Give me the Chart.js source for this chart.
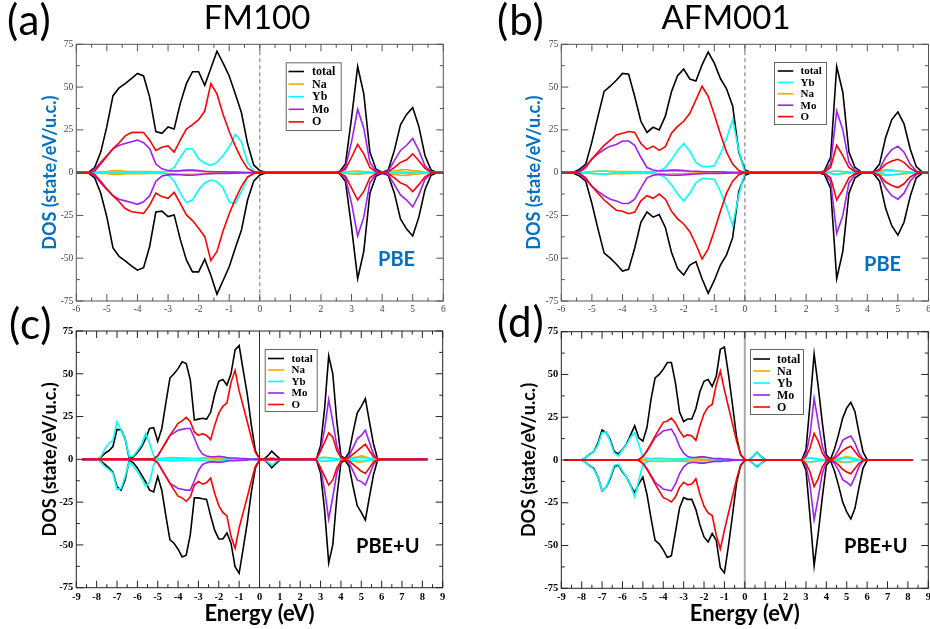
<!DOCTYPE html>
<html><head><meta charset="utf-8">
<script src="https://cdn.jsdelivr.net/npm/chart.js@4.4.0/dist/chart.umd.min.js"></script>
<style>
html,body{margin:0;padding:0;background:#fff;}
#wrap{position:relative;width:930px;height:629px;overflow:hidden;background:#fff;}
canvas{position:absolute;left:0;top:0;}
.t{position:absolute;font-family:Lato,"Open Sans",sans-serif;line-height:1;white-space:nowrap;color:#000;}
.p{font-size:42px;letter-spacing:1px;}
.b{font-weight:bold;}
</style></head>
<body><div id="wrap">
<canvas id="ca" width="930" height="629"></canvas>
<canvas id="cb" width="930" height="629"></canvas>
<canvas id="cc" width="930" height="629"></canvas>
<canvas id="cd" width="930" height="629"></canvas>
<div class="t p" style="left:7px;top:-2px">(a)</div>
<div class="t" style="left:157px;top:0px;width:200px;text-align:center;font-size:33px">FM100</div>
<div class="t p" style="left:497px;top:-2px">(b)</div>
<div class="t" style="left:626px;top:0px;width:200px;text-align:center;font-size:33px">AFM001</div>
<div class="t p" style="left:9px;top:302px">(c)</div>
<div class="t p" style="left:497px;top:300px">(d)</div>
<div class="t b" style="left:378px;top:248px;font-size:20px;color:#0070c0">PBE</div>
<div class="t b" style="left:864px;top:253px;font-size:20px;color:#0070c0">PBE</div>
<div class="t b" style="left:356px;top:535px;font-size:20px">PBE+U</div>
<div class="t b" style="left:844px;top:535px;font-size:20px">PBE+U</div>
</div>
<script>
// ---------------- DATA ----------------
const energyTop = [-6.0,-5.8,-5.6,-5.4,-5.2,-5.0,-4.8,-4.6,-4.4,-4.2,-4.0,-3.8,-3.6,-3.4,-3.2,-3.0,-2.8,-2.6,-2.4,-2.2,-2.0,-1.8,-1.6,-1.4,-1.2,-1.0,-0.8,-0.6,-0.4,-0.2,0.0,0.2,0.4,
  2.4,2.6,2.8,3.0,3.2,3.4,3.6,3.8,4.0,4.2,4.4,4.6,4.8,5.0,5.2,5.4,5.6,5.8,6.0];
const energyC = [-8.7,-8.0,-7.8,-7.6,-7.4,-7.2,-7.0,-6.8,-6.6,-6.4,-6.2,-6.0,-5.8,-5.6,-5.4,-5.2,-5.0,-4.8,-4.6,-4.4,-4.2,-4.0,-3.8,-3.6,-3.4,-3.2,-3.0,-2.8,-2.6,-2.4,-2.2,-2.0,-1.8,-1.6,-1.4,-1.2,-1.0,-0.8,-0.6,-0.4,-0.2,0.0,0.2,0.4,0.6,0.8,1.0,1.2,
  2.6,2.8,3.0,3.2,3.4,3.6,3.8,4.0,4.2,4.4,4.6,4.8,5.0,5.2,5.4,5.6,5.8,6.0,6.2,8.25];
const energyD = [-8.85,-8.0,-7.8,-7.6,-7.4,-7.2,-7.0,-6.8,-6.6,-6.4,-6.2,-6.0,-5.8,-5.6,-5.4,-5.2,-5.0,-4.8,-4.6,-4.4,-4.2,-4.0,-3.8,-3.6,-3.4,-3.2,-3.0,-2.8,-2.6,-2.4,-2.2,-2.0,-1.8,-1.6,-1.4,-1.2,-1.0,-0.8,-0.6,-0.4,-0.2,0.0,0.2,0.4,0.6,0.8,1.0,1.2,
  2.6,2.8,3.0,3.2,3.4,3.6,3.8,4.0,4.2,4.4,4.6,4.8,5.0,5.2,5.4,5.6,5.8,6.0,6.2,8.25];

const xTicksTop = [-6,-5,-4,-3,-2,-1,0,1,2,3,4,5,6];
const xTicksBottom = [-9,-8,-7,-6,-5,-4,-3,-2,-1,0,1,2,3,4,5,6,7,8,9];
const yTicks = [-75,-50,-25,0,25,50,75];

// ---- (a) FM100, PBE ----
const aTotalUp = [0,0,0.3,3,12,27,45,49.5,52,55,58,56.5,44,24,23,26.7,25.5,40.5,52,59,59,51,61,71,64,56.5,46,35,17,4.5,1.2,0.2,0,
  0,0.5,5,32,62,46,12,2,0.3,1.5,13,28,34,38,27,10,1.5,0,0];
const aTotalDn = [0,0,-0.3,-3,-12,-26,-44,-49,-51.5,-54.5,-57,-55.5,-43,-23,-22.5,-25.7,-24.7,-39,-51,-58,-58,-50.6,-60,-71,-63,-55,-44,-33.5,-16,-5,-1.4,-0.2,0,
  0,-0.5,-5,-32,-62,-46,-12,-2,-0.3,-1.5,-12,-27,-33,-37,-26,-10,-1.5,0,0];
const aNaUp = [0,0,0,0.2,0.4,0.6,1.2,1.2,0.8,0.6,0.7,0.7,0.6,0.5,0.5,0.6,0.9,1,1,1,0.8,0.6,0.4,0.3,0.3,0.2,0.2,0.1,0.1,0,0,0,0,
  0,0.1,0.4,0.8,1,0.6,0.3,0.1,0,0.3,1,1.5,1.8,1.2,0.9,0.4,0.1,0,0];
const aNaDn = [0,0,0,-0.2,-0.4,-0.5,-1,-1,-0.7,-0.5,-0.6,-0.6,-0.5,-0.5,-0.5,-0.6,-0.8,-0.9,-0.9,-0.9,-0.7,-0.5,-0.4,-0.3,-0.3,-0.2,-0.2,-0.1,-0.1,0,0,0,0,
  0,-0.1,-0.4,-0.8,-1,-0.6,-0.3,-0.1,0,-0.3,-1,-1.5,-1.6,-1,-0.8,-0.4,-0.1,0,0];
const aYbUp = [0,0,0.1,0.2,0.3,0.3,0.3,0.3,0.3,0.3,0.3,0.3,0.3,0.3,0.3,1,3,9,14,13.8,8,5.5,4.3,6,10,15,22.5,18,6,1,0,0,0,
  0,0.1,0.3,0.5,0.5,0.3,0.2,0.1,0,0.1,0.2,0.3,0.3,0.3,0.2,0.1,0,0,0];
const aYbDn = [0,0,-0.1,-0.2,-0.3,-0.3,-0.3,-0.3,-0.3,-0.3,-0.3,-0.3,-0.3,-0.3,-0.3,-1.4,-5,-12,-17.5,-16,-10,-6,-4.3,-5.3,-9,-17,-18,-11,-3,-0.5,0,0,0,
  0,-0.1,-0.3,-0.5,-0.5,-0.3,-0.2,-0.1,0,-0.1,-0.2,-0.3,-0.3,-0.3,-0.2,-0.1,0,0,0];
const aMoUp = [0,0,0,2,6,10,14,16,17,18,19,17.5,14,5,2.2,1.3,1,1.2,1.5,1.5,1.2,0.8,0.6,0.5,0.5,0.4,0.3,0.2,0.1,0,0,0,0,
  0,0.5,3,18,37,26,6,1,0.3,1,7,13,16,20,13,4,0.5,0,0];
const aMoDn = [0,0,0,-2,-6,-10,-13.5,-15.5,-16.5,-17.5,-18.5,-17,-13.5,-5,-2,-1.3,-1,-1.2,-1.5,-1.5,-1.2,-0.8,-0.6,-0.5,-0.5,-0.4,-0.3,-0.2,-0.1,0,0,0,0,
  0,-0.5,-3,-18,-37,-26,-6,-1,-0.3,-1,-7,-13,-16,-20,-13,-4,-0.5,0,0];
const aOUp = [0,0,0,1,5,9.6,14,17.5,21.5,23.4,23.6,23.5,19,13,14.8,15.6,12,19,25.5,28,31,36,52,46,34,24,15.5,8,2.5,0.5,0,0,0,
  0,0.3,2,9,16.5,11,3,0.5,0,0.5,3,6,7.5,11,7,2.5,0.3,0,0];
const aODn = [0,0,0,-1,-5,-9.5,-13.5,-17,-21,-22.8,-23.3,-23.8,-19,-12,-14,-15,-11.5,-18,-24.7,-28,-32.5,-37.4,-51.4,-46,-34,-24,-15.5,-8,-2.5,-0.5,0,0,0,
  0,-0.3,-2,-9,-16,-11,-3,-0.5,0,-0.5,-3,-6,-7.5,-11,-7,-2.5,-0.3,0,0];

// ---- (b) AFM001, PBE ----
const bTotalUp = [0,0,0.3,2,5,18,33,47.5,50.5,54,58,57.5,44.5,30,23.5,26.5,25,33,47.3,56.7,60.5,54.7,53.5,63,70.5,64,55,49,39,12,1.5,0.2,0,
  0,1,9,62,47,12,3,0.5,0.2,0.5,5,20.6,31,35.5,28.5,14,3.5,0.3,0];
const bTotalDn = [0,0,-0.3,-2,-5,-18,-33,-47,-50,-53.5,-57.5,-56.5,-44,-29,-23,-26,-24.5,-32,-46.5,-56,-59.8,-54,-52,-62,-70.5,-63,-54,-48,-38,-11,-1.5,-0.2,0,
  0,-1,-9,-62,-46,-12,-3,-0.5,-0.2,-0.5,-5,-21,-31,-36.5,-29,-14,-3,-0.3,0];
const bNaUp = [0,0,0,0.1,0.3,0.6,0.9,0.9,0.8,0.7,0.7,0.7,0.6,0.5,0.5,0.6,0.8,0.9,0.9,0.8,0.7,0.5,0.4,0.3,0.3,0.2,0.2,0.1,0.1,0,0,0,0,
  0,0.1,0.5,1,0.6,0.3,0.1,0,0,0.3,1,1.8,1.5,1,0.7,0.3,0.1,0,0];
const bNaDn = [0,0,0,-0.1,-0.3,-0.5,-0.8,-0.8,-0.7,-0.6,-0.6,-0.6,-0.5,-0.5,-0.5,-0.5,-0.7,-0.8,-0.8,-0.7,-0.6,-0.5,-0.4,-0.3,-0.3,-0.2,-0.2,-0.1,-0.1,0,0,0,0,
  0,-0.1,-0.5,-1,-0.6,-0.3,-0.1,0,0,-0.3,-1,-1.6,-1.4,-1,-0.7,-0.3,-0.1,0,0];
const bYbUp = [0,0,0,0,0.2,0.5,0.8,1,0.5,0.3,0.3,0.3,0.3,0.3,0.3,0.3,1,3,7.5,13,17,12.5,6,3.5,3.5,4,11,20,31,13,0,0,0,
  0,0.1,0.5,1,0.5,0.2,0.1,0,0,0.1,0.3,1,1.2,0.8,0.4,0.2,0,0,0];
const bYbDn = [0,0,0,0,-0.2,-0.5,-0.8,-1,-0.5,-0.3,-0.3,-0.3,-0.3,-0.3,-0.3,-0.3,-1,-3,-7,-12.5,-16.5,-12,-6,-3.5,-3.5,-4,-11,-20,-31,-13,0,0,0,
  0,-0.1,-0.5,-1,-0.5,-0.2,-0.1,0,0,-0.1,-0.3,-1,-1.2,-0.8,-0.4,-0.2,0,0,0];
const bMoUp = [0,0,0,1,4,8,11,13.5,15.5,16.5,18.5,18.5,16,9,3,1.5,1,1.3,1.5,1.5,1.3,1,0.8,0.6,0.5,0.5,0.5,0.3,0.2,0,0,0,0,
  0,0.5,5,36,25,6,1.2,0.2,0,0.5,2,9,13.5,15.5,12,5,1,0,0];
const bMoDn = [0,0,0,-1,-4,-8,-11,-13.5,-15.5,-16.5,-18,-18,-15.5,-9,-3,-1.5,-1,-1.3,-1.5,-1.5,-1.3,-1,-0.8,-0.6,-0.5,-0.5,-0.5,-0.3,-0.2,0,0,0,0,
  0,-0.5,-5,-35.5,-25,-6,-1.2,-0.2,0,-0.5,-2,-9,-13.5,-15.5,-12,-5,-1,0,0];
const bOUp = [0,0,0,0.5,3,8,12,16,19,22,23,24,23.5,17,13.6,15.5,13,15.2,23,27,30,34.7,42.5,50.5,44.6,34,22.6,12,5,1.2,0,0,0,
  0,0.4,3,16,10,3,0.6,0.1,0,0.3,1.5,5,6.8,7.8,6,2.5,0.5,0,0];
const bODn = [0,0,0,-0.5,-3,-8,-12,-16,-19,-22,-22.5,-24,-23,-16.5,-13.5,-15,-12.5,-15.5,-22.5,-27,-30,-34.5,-42,-50.5,-44.5,-34,-22.6,-12,-5,-1.2,0,0,0,
  0,-0.4,-3,-16,-10,-3,-0.6,-0.1,0,-0.3,-1.5,-5.5,-7.5,-8.7,-6.5,-2.5,-0.5,0,0];

// ---- (c) FM100, PBE+U ----
const cTotalUp = [0,0,1,3.5,5,7.5,17.5,17.2,12,0.5,1.5,4,7,12,18,18.5,10.5,18,33,47.5,50,53,57,56,46.5,23,23.5,24,23.5,27.5,38,45.6,46.7,43.4,50,64,66.5,52,38,20,5,0.3,0,2,4.8,2.5,0.5,0,
  0,0.5,8,30,60.5,50,22,2,0.5,4,16,27,31,35.5,22,9,0.5,0,0,0];
const cTotalDn = [0,0,-1,-3,-5,-7.5,-16,-18,-12,-0.5,-2,-5,-9,-13,-18,-19,-10,-18,-33,-47,-49,-52.5,-57,-56,-44,-22.5,-22.5,-23,-23.4,-33,-41.5,-46.5,-46.5,-43,-49,-62.7,-66.6,-52,-37,-19,-5,-0.3,0,-2,-5,-2.5,-0.5,0,
  0,-0.5,-8,-30,-60.5,-50,-22,-2,-0.5,-4,-16,-27,-31,-35.5,-22,-9,-0.5,0,0,0];
const cNaUp = [0,0,0,0,0,0,0,0,0,0,0,0,0,0,0,0,0.3,0.6,0.8,1,1,0.9,0.8,0.7,0.6,0.5,0.5,0.6,0.6,0.6,0.5,0.4,0.3,0.3,0.2,0.2,0.1,0.1,0,0,0,0,0,0,0,0,0,0,
  0,0.2,0.8,1.2,1,0.6,0.3,0.1,0,0.3,1,1.5,2,1.5,0.8,0.3,0,0,0,0];
const cNaDn = [0,0,0,0,0,0,0,0,0,0,0,0,0,0,0,0,-0.3,-0.5,-0.7,-0.9,-0.9,-0.8,-0.7,-0.6,-0.5,-0.5,-0.5,-0.5,-0.5,-0.5,-0.4,-0.4,-0.3,-0.3,-0.2,-0.2,-0.1,-0.1,0,0,0,0,0,0,0,0,0,0,
  0,-0.2,-0.8,-1.2,-1,-0.6,-0.3,-0.1,0,-0.3,-1,-1.5,-1.5,-1.2,-0.6,-0.3,0,0,0,0];
const cYbUp = [0,0,1.5,6,9.4,11,22,17,12,1.5,2,5,8.5,15,9.4,2,0.5,0.5,0.5,0.5,0.5,0.5,0.5,0.5,0.5,0.5,0.6,0.8,1,1.2,1.2,1.2,1,0.6,0.4,0.3,0.2,0.1,0.1,0,0,0,0,0.5,1,0.5,0,0,
  0,0.3,1,1,0.8,0.6,0.3,0.1,0,0.2,0.5,1,1,0.8,0.5,0.2,0,0,0,0];
const cYbDn = [0,0,-1.5,-4.3,-6,-8,-17.5,-17,-10,-1.5,-4,-7,-11,-15.5,-13.5,-3,-0.5,-0.5,-0.5,-0.5,-0.5,-0.5,-0.5,-0.5,-0.5,-0.5,-0.6,-0.8,-1,-1.2,-1.2,-1.2,-1,-0.6,-0.4,-0.3,-0.2,-0.1,-0.1,0,0,0,0,-1.5,-3.5,-1.5,0,0,
  0,-0.3,-1,-1,-0.8,-0.6,-0.3,-0.1,0,-0.2,-0.5,-1,-1,-0.8,-0.5,-0.2,0,0,0,0];
const cMoUp = [0,0,0,0,0,0,0,0,0,0,0,0,0,0,0,0.3,2,6,10,14,15.5,17,17.5,18,18,12.5,6.5,3,2,1.5,1.5,1.8,1.5,1,0.8,0.8,0.6,0.5,0.3,0.1,0,0,0,0,0,0,0,0,
  0,0.5,5,18,35,22,8,1,0.3,2,7,12,14,17,10,3,0.5,0,0,0];
const cMoDn = [0,0,0,0,0,0,0,0,0,0,0,0,0,0,0,-0.3,-2,-6,-10,-14,-15.5,-17,-17.5,-18,-18,-12.5,-6.5,-3,-2,-1.5,-1.5,-1.8,-1.5,-1,-0.8,-0.8,-0.6,-0.5,-0.3,-0.1,0,0,0,0,0,0,0,0,
  0,-0.5,-5,-18,-35,-22,-8,-1,-0.3,-2,-7,-12,-13,-15,-9,-3,-0.5,0,0,0];
const cOUp = [0,0,0,0,0,0,0,0,0,0,0,0,0,0,0,0.3,2,6,10,14,17.5,21,22.5,24.5,22,16,14,15,14,11.5,20,27,31,33,45,52,40,31,22,12.5,4,0.5,0,0,0,0,0,0,
  0,0.5,5,10,15.5,13,5,1,0.3,1,3,5,7,8.8,5,1.5,0.3,0,0,0];
const cODn = [0,0,0,0,0,0,0,0,0,0,0,0,0,0,0,-0.3,-2,-6,-10,-14,-18,-21.5,-22.5,-24.5,-22,-15,-13,-14.5,-13.5,-11,-20,-27,-31,-33,-45,-52,-40,-31,-22,-12.5,-4,-0.5,0,0,0,0,0,0,
  0,-0.5,-5,-10,-15,-12,-5,-1,-0.3,-1,-3,-5,-7,-8.2,-5,-1.5,-0.3,0,0,0];

// ---- (d) AFM001, PBE+U ----
const dTotalUp = [0,0,1.5,3.5,5,10,17.5,16,12,5,3.5,6.2,9.4,14.7,20,13,11,19,35.5,48,50,53,57,57,45,28,22.5,24,24,30,40,46,47,43,49,64.7,66,50,32,13,3,0.3,0,2,4.5,2,0.3,0,
  0,0.2,6,33,62,43,22,3,0.3,6.4,15,24.5,30.4,33.7,28.4,16,4.7,0.2,0,0];
const dTotalDn = [0,0,-1.5,-3.5,-5,-10,-18,-16,-11,-4,-3,-7,-10,-15,-19,-14,-10,-20,-34,-47,-49,-52.5,-57,-56,-42,-28,-22,-23,-23,-29,-38,-45,-48,-43,-47,-63,-66,-50,-32,-13,-3,-0.3,0,-2,-4,-2,-0.3,0,
  0,-0.2,-6,-33,-61.8,-43,-22,-3,-0.3,-6.4,-15,-24.5,-30.4,-34.5,-28.4,-16,-4.7,-0.2,0,0];
const dNaUp = [0,0,0,0,0,0,0,0,0,0,0,0,0,0,0,0,0.3,0.6,0.9,1,1,0.9,0.8,0.7,0.6,0.5,0.5,0.6,0.7,0.6,0.5,0.4,0.3,0.3,0.2,0.2,0.1,0.1,0,0,0,0,0,0,0,0,0,0,
  0,0.2,0.7,1.2,1,0.6,0.3,0.1,0,0.3,1,1.5,2,1.5,0.8,0.3,0,0,0,0];
const dNaDn = [0,0,0,0,0,0,0,0,0,0,0,0,0,0,0,0,-0.3,-0.5,-0.7,-0.9,-0.9,-0.8,-0.7,-0.6,-0.5,-0.5,-0.5,-0.5,-0.6,-0.5,-0.4,-0.4,-0.3,-0.3,-0.2,-0.2,-0.1,-0.1,0,0,0,0,0,0,0,0,0,0,
  0,-0.2,-0.7,-1.2,-1,-0.6,-0.3,-0.1,0,-0.3,-1,-1.5,-1.5,-1.2,-0.6,-0.3,0,0,0,0];
const dYbUp = [0,0,1.5,3.5,5,9,16,16.5,11,4,2.5,6,9,13.5,16,9,1.5,1,0.6,0.6,0.6,0.6,0.6,0.6,0.6,0.6,0.8,1,1.2,1.5,1.5,1.5,1.2,0.8,0.5,0.3,0.2,0.1,0,0,0,0,0,2,4.3,2,0,0,
  0,0.3,1,1,0.8,0.5,0.3,0.1,0,0.2,0.5,1,1.2,0.8,0.5,0.2,0,0,0,0];
const dYbDn = [0,0,-1.5,-3.5,-5.5,-10,-18,-16,-10,-3,-2.5,-6.5,-10,-15,-21.5,-12,-2.5,-1,-0.6,-0.6,-0.6,-0.6,-0.6,-0.6,-0.6,-0.6,-0.8,-1,-1.2,-1.5,-1.5,-1.5,-1.2,-0.8,-0.5,-0.3,-0.2,-0.1,0,0,0,0,0,-2,-4.3,-2,0,0,
  0,-0.3,-1,-1,-0.8,-0.5,-0.3,-0.1,0,-0.2,-0.5,-1,-1.2,-0.8,-0.5,-0.2,0,0,0,0];
const dMoUp = [0,0,0,0,0,0,0,0,0,0,0,0,0,0,0,0.3,2,5,9,13,15,17,17.5,18,14,8,4,2,1.5,1.5,1.8,1.8,1.5,1,0.8,0.8,0.6,0.5,0.3,0.1,0,0,0,0,0,0,0,0,
  0,0.2,3,15,36,22,8,1,0.2,2,6,11.5,13,14,10,4,0.5,0,0,0];
const dMoDn = [0,0,0,0,0,0,0,0,0,0,0,0,0,0,0,-0.3,-2,-5,-9,-13,-15,-17,-17.5,-18,-14,-8,-4,-2,-1.5,-1.5,-1.8,-1.8,-1.5,-1,-0.8,-0.8,-0.6,-0.5,-0.3,-0.1,0,0,0,0,0,0,0,0,
  0,-0.2,-3,-15,-35,-22,-8,-1,-0.2,-2,-6,-11.5,-13,-15,-10,-4,-0.5,0,0,0];
const dOUp = [0,0,0,0,0,0,0,0,0,0,0,0,0,0,0,0.3,2,5.5,9.5,14,18,22,22.8,24.5,21.5,17,13.5,14.8,14,11.5,20,27,31,32.5,44,52,41,31,21,11,3,0.3,0,0,0,0,0,0,
  0,0.2,2,7,15.5,11,4,0.5,0.1,1,3,5.5,7,8,5,2,0.3,0,0,0];
const dODn = [0,0,0,0,0,0,0,0,0,0,0,0,0,0,0,-0.3,-2,-5.5,-9.5,-14,-18,-22,-23,-24.5,-21.5,-16,-13,-14.5,-14,-11,-20,-27,-31,-32.5,-44,-52,-41,-31,-21,-11,-3,-0.3,0,0,0,0,0,0,
  0,-0.2,-2,-7,-15.5,-11,-4,-0.5,-0.1,-1,-3,-5.5,-7,-8,-5,-2,-0.3,0,0,0];

const legendOrderA = ['total','Na','Yb','Mo','O'];
const legendOrderB = ['total','Yb','Na','Mo','O'];

// ---------------- STYLE ----------------
const COLORS = {total:'#000000', Na:'#ffa500', Yb:'#00ffff', Mo:'#a020f0', O:'#ff0000'};
const ORDER = {total:5, Na:4, Yb:3, Mo:2, O:1};
const BLUE = '#0070c0';

function pts(name, E, v) {
  if (E.length !== v.length) throw new Error('Length mismatch in ' + name + ': ' + v.length + ' vs ' + E.length);
  return E.map((e, i) => ({x: e, y: v[i]}));
}

const framePlugin = {
  id: 'frame',
  beforeDatasetsDraw(chart, args, o) {
    const {ctx, chartArea: a} = chart;
    const x = chart.scales.x;
    const x0 = x.getPixelForValue(0);
    ctx.save();
    ctx.strokeStyle = o.zeroColor; ctx.lineWidth = o.zeroWidth; ctx.setLineDash(o.zeroDash);
    ctx.beginPath(); ctx.moveTo(x0, a.top); ctx.lineTo(x0, a.bottom); ctx.stroke();
    ctx.restore();
  },
  afterDatasetsDraw(chart, args, o) {
    const {ctx, chartArea: a} = chart;
    const x = chart.scales.x, y = chart.scales.y;
    ctx.save();
    ctx.strokeStyle = o.frameColor; ctx.lineWidth = 1;
    ctx.strokeRect(a.left, a.top, a.right - a.left, a.bottom - a.top);
    const xt = o.xTicks, yt = o.yTicks;
    ctx.beginPath();
    for (let i = 0; i < xt.length; i++) {
      const p = x.getPixelForValue(xt[i]);
      ctx.moveTo(p, a.bottom); ctx.lineTo(p, a.bottom - o.major);
      ctx.moveTo(p, a.top); ctx.lineTo(p, a.top + o.major);
      if (i < xt.length - 1) {
        const m = x.getPixelForValue((xt[i] + xt[i + 1]) / 2);
        ctx.moveTo(m, a.bottom); ctx.lineTo(m, a.bottom - o.minor);
        ctx.moveTo(m, a.top); ctx.lineTo(m, a.top + o.minor);
      }
    }
    for (let i = 0; i < yt.length; i++) {
      const p = y.getPixelForValue(yt[i]);
      ctx.moveTo(a.left, p); ctx.lineTo(a.left + o.major, p);
      ctx.moveTo(a.right, p); ctx.lineTo(a.right - o.major, p);
      if (i < yt.length - 1) {
        const m = y.getPixelForValue((yt[i] + yt[i + 1]) / 2);
        ctx.moveTo(a.left, m); ctx.lineTo(a.left + o.minor, m);
        ctx.moveTo(a.right, m); ctx.lineTo(a.right - o.minor, m);
      }
    }
    ctx.stroke();
    ctx.restore();
  }
};

const legendPlugin = {
  id: 'dosLegend',
  afterDraw(chart, args, o) {
    const ctx = chart.ctx;
    ctx.save();
    ctx.fillStyle = '#fff';
    ctx.fillRect(o.x, o.y, o.w, o.h);
    ctx.strokeStyle = '#666'; ctx.lineWidth = 1;
    ctx.strokeRect(o.x + 0.5, o.y + 0.5, o.w, o.h);
    ctx.font = o.font; ctx.textBaseline = 'middle'; ctx.textAlign = 'left';
    o.items.forEach((name, i) => {
      const yy = o.y0 + i * o.dy;
      ctx.strokeStyle = COLORS[name]; ctx.lineWidth = 1.6;
      ctx.beginPath(); ctx.moveTo(o.lx0, yy); ctx.lineTo(o.lx1, yy); ctx.stroke();
      ctx.fillStyle = '#000'; ctx.fillText(name, o.tx, yy + 0.5);
    });
    ctx.restore();
  }
};

function makeChart(p) {
  const datasets = [];
  Object.keys(p.series).forEach(sp => {
    const [up, dn] = p.series[sp];
    [[up, 'up'], [dn, 'dn']].forEach(([arr, tag]) => {
      datasets.push({
        label: sp, data: pts(p.id + ' ' + sp + ' ' + tag, p.E, arr),
        borderColor: COLORS[sp], backgroundColor: COLORS[sp],
        borderWidth: 1.6, pointRadius: 0, fill: false, tension: 0, order: ORDER[sp]
      });
    });
  });
  const tickFont = p.bold ? {family: '"Liberation Serif", serif', size: 10.5, weight: 'bold'}
                          : {family: '"Liberation Serif", serif', size: 9.5};
  const tickColor = p.bold ? '#000' : '#444';
  return new Chart(document.getElementById(p.id), {
    type: 'line',
    data: {datasets},
    options: {
      responsive: false, animation: false, devicePixelRatio: 1,
      layout: {padding: p.pad},
      scales: {
        x: {
          type: 'linear', min: p.xTicks[0], max: p.xTicks[p.xTicks.length - 1],
          afterBuildTicks: s => { s.ticks = p.xTicks.map(v => ({value: v})); },
          afterFit: s => { s.height = p.xH; s.paddingLeft = 0; s.paddingRight = 0; },
          grid: {display: false, drawTicks: false}, border: {display: false},
          ticks: {font: tickFont, color: tickColor, padding: 3, maxRotation: 0, autoSkip: false, callback: v => String(v)},
          title: p.xTitle ? {display: true, text: 'Energy (eV)', color: '#000',
                   font: {family: 'Lato', size: 22, weight: 'bold'}, padding: {top: 0, bottom: 1.8}} : {display: false}
        },
        y: {
          type: 'linear', min: -75, max: 75,
          afterBuildTicks: s => { s.ticks = yTicks.map(v => ({value: v})); },
          afterFit: s => { s.width = p.yW; s.paddingTop = 0; s.paddingBottom = 0; },
          grid: {display: false, drawTicks: false}, border: {display: false},
          ticks: {font: tickFont, color: tickColor, padding: 3, autoSkip: false, callback: v => String(v)},
          title: {display: true, text: 'DOS (state/eV/u.c.)', color: p.bold ? '#000' : BLUE,
                  font: {family: 'Lato', size: 18, weight: 'bold'}, padding: {top: p.yTitlePad, bottom: 0}}
        }
      },
      plugins: {
        legend: {display: false}, tooltip: {enabled: false},
        frame: {xTicks: p.xTicks, yTicks: yTicks, major: 7, minor: 3.5, frameColor: p.frameColor,
                zeroColor: p.zero.color, zeroWidth: p.zero.width, zeroDash: p.zero.dash},
        dosLegend: Object.assign({items: p.legendOrder}, p.legend)
      }
    },
    plugins: [framePlugin, legendPlugin]
  });
}

makeChart({
  id: 'ca', E: energyTop, xTicks: xTicksTop, bold: false, xTitle: false,
  series: {total: [aTotalUp, aTotalDn], Na: [aNaUp, aNaDn], Yb: [aYbUp, aYbDn], Mo: [aMoUp, aMoDn], O: [aOUp, aODn]},
  pad: {left: 0, top: 44.3, right: 486.7, bottom: 308}, yW: 76.3, xH: 20, yTitlePad: 38.9,
  frameColor: '#555', zero: {color: '#888', width: 1.2, dash: [4, 3]},
  legendOrder: legendOrderA,
  legend: {x: 285.7, y: 62.3, w: 55, h: 67.7, lx0: 288.5, lx1: 304, tx: 312, y0: 71.5, dy: 12.6, font: 'bold 12px "Liberation Serif"'}
});
makeChart({
  id: 'cb', E: energyTop, xTicks: xTicksTop, bold: false, xTitle: false,
  series: {total: [bTotalUp, bTotalDn], Na: [bNaUp, bNaDn], Yb: [bYbUp, bYbDn], Mo: [bMoUp, bMoDn], O: [bOUp, bODn]},
  pad: {left: 465, top: 44.3, right: 1.5, bottom: 308}, yW: 96.3, xH: 20, yTitlePad: 57.9,
  frameColor: '#555', zero: {color: '#888', width: 1.2, dash: [4, 3]},
  legendOrder: legendOrderB,
  legend: {x: 774, y: 62, w: 52, h: 62, lx0: 777.7, lx1: 793.3, tx: 800.5, y0: 71, dy: 11.4, font: 'bold 11px "Liberation Serif"'}
});
makeChart({
  id: 'cc', E: energyC, xTicks: xTicksBottom, bold: true, xTitle: true,
  series: {total: [cTotalUp, cTotalDn], Na: [cNaUp, cNaDn], Yb: [cYbUp, cYbDn], Mo: [cMoUp, cMoDn], O: [cOUp, cODn]},
  pad: {left: 0, top: 331, right: 487.3, bottom: 0}, yW: 76.3, xH: 41.3, yTitlePad: 39.6,
  frameColor: '#222', zero: {color: '#333', width: 1, dash: []},
  legendOrder: legendOrderA,
  legend: {x: 264.7, y: 349, w: 52, h: 62, lx0: 268, lx1: 284, tx: 291.5, y0: 358.5, dy: 11.5, font: 'bold 11px "Liberation Serif"'}
});
makeChart({
  id: 'cd', E: energyD, xTicks: xTicksBottom, bold: true, xTitle: true,
  series: {total: [dTotalUp, dTotalDn], Na: [dNaUp, dNaDn], Yb: [dYbUp, dYbDn], Mo: [dMoUp, dMoDn], O: [dOUp, dODn]},
  pad: {left: 465, top: 331.7, right: 1.7, bottom: 0}, yW: 96.3, xH: 40.7, yTitlePad: 53.7,
  frameColor: '#222', zero: {color: '#aaa', width: 2, dash: []},
  legendOrder: legendOrderA,
  legend: {x: 750, y: 349, w: 53, h: 65, lx0: 753.3, lx1: 770, tx: 777, y0: 359, dy: 12, font: 'bold 12px "Liberation Serif"'}
});
</script>
</body></html>
